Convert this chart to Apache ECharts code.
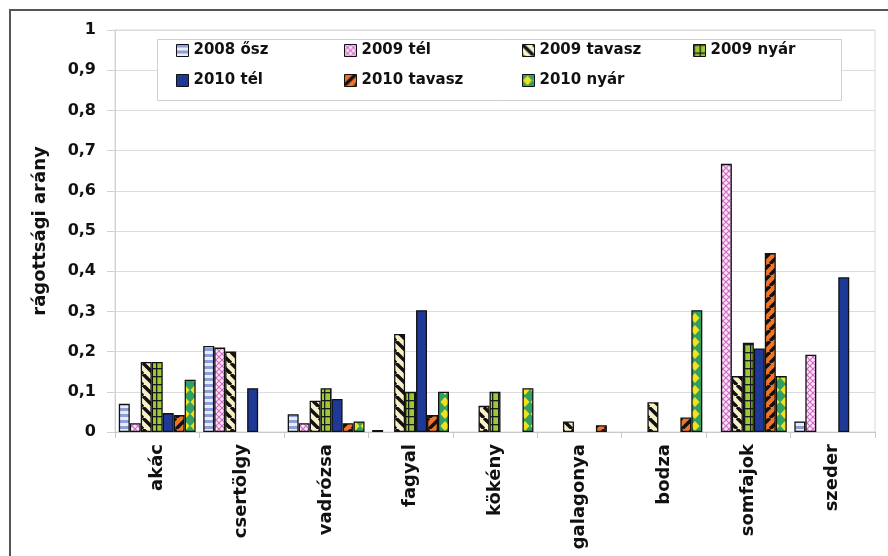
<!DOCTYPE html>
<html>
<head>
<meta charset="utf-8">
<script src="https://cdn.jsdelivr.net/npm/echarts@6/dist/echarts.min.js"></script>
<style>
html,body{margin:0;padding:0;background:#fff;}
#chart{width:888px;height:556px;}
</style>
</head>
<body>
<div id="chart"></div>
<script>
// ---- data ----
const categories = ['akác','csertölgy','vadrózsa','fagyal','kökény','galagonya','bodza','somfajok','szeder'];
const seriesNames = ['2008 ősz','2009 tél','2009 tavasz','2009 nyár','2010 tél','2010 tavasz','2010 nyár'];
const s2008osz    = [0.070, 0.214, 0.044, 0.005, 0,     0,     0,     0,     0.026];
const s2009tel    = [0.022, 0.210, 0.022, 0,     0,     0,     0,     0.667, 0.192];
const s2009tavasz = [0.174, 0.200, 0.078, 0.244, 0.065, 0.026, 0.074, 0.139, 0];
const s2009nyar   = [0.174, 0,     0.109, 0.100, 0.100, 0,     0,     0.222, 0];
const s2010tel    = [0.047, 0.109, 0.082, 0.303, 0,     0,     0,     0.208, 0.385];
const s2010tavasz = [0.042, 0,     0.022, 0.042, 0,     0.017, 0.036, 0.445, 0];
const s2010nyar   = [0.130, 0,     0.026, 0.100, 0.109, 0,     0.303, 0.139, 0];
const yTickLabels = ['0','0,1','0,2','0,3','0,4','0,5','0,6','0,7','0,8','0,9','1'];
const seriesValues = [s2008osz, s2009tel, s2009tavasz, s2009nyar, s2010tel, s2010tavasz, s2010nyar];

// ---- patterns ----
function mk(w, h, draw) {
  const c = document.createElement('canvas');
  c.width = w; c.height = h;
  const g = c.getContext('2d');
  draw(g, w, h);
  return { image: c, repeat: 'repeat' };
}
const patterns = [
  mk(6, 6, (g, w, h) => { g.fillStyle = '#e9edf9'; g.fillRect(0,0,w,h); g.fillStyle = '#8e9ed8'; g.fillRect(0,0,w,3); }),
  mk(6, 6, (g, w, h) => {
    g.fillStyle = '#fbe6f6'; g.fillRect(0,0,w,h);
    g.strokeStyle = '#d06cc6'; g.lineWidth = 1.2;
    g.beginPath(); g.moveTo(0,0); g.lineTo(6,6); g.moveTo(6,0); g.lineTo(0,6); g.stroke();
  }),
  mk(11, 11, (g, w, h) => {
    g.fillStyle = '#f8f0c6'; g.fillRect(0,0,w,h);
    g.strokeStyle = '#111'; g.lineWidth = 3.4;
    g.beginPath();
    for (let k = -2; k <= 2; k++) { g.moveTo(k*11, 0); g.lineTo(k*11 + 11, 11); }
    g.stroke();
  }),
  mk(6, 8, (g, w, h) => {
    g.fillStyle = '#9acb34'; g.fillRect(0,0,w,h);
    g.fillStyle = '#1a1a1a'; g.fillRect(0,0,w,1.3); g.fillRect(0,0,1.3,h);
  }),
  '#1f3a96',
  mk(11, 11, (g, w, h) => {
    g.fillStyle = '#f07526'; g.fillRect(0,0,w,h);
    g.strokeStyle = '#111'; g.lineWidth = 3.4;
    g.beginPath();
    for (let k = -2; k <= 2; k++) { g.moveTo(k*11, 11); g.lineTo(k*11 + 11, 0); }
    g.stroke();
  }),
  mk(10, 12, (g, w, h) => {
    g.fillStyle = '#2f9f62'; g.fillRect(0,0,w,h);
    g.fillStyle = '#f2e21e';
    g.beginPath(); g.moveTo(5,1); g.lineTo(9.5,6); g.lineTo(5,11); g.lineTo(0.5,6); g.closePath(); g.fill();
  })
];

const chart = echarts.init(document.getElementById('chart'), null, { renderer: 'canvas' });
const font = 'DejaVu Sans';

// legend laid out as 4 columns x 2 rows
const legendColumnsLeft = [176, 344, 522, 693];
const legends = legendColumnsLeft.map((x, c) => ({
  data: seriesNames.filter((_, i) => i % 4 === c),
  orient: 'vertical',
  left: x, top: 43,
  z: 20,
  padding: 0,
  icon: 'rect',
  itemWidth: 12, itemHeight: 12,
  itemGap: 15,
  itemStyle: { borderColor: '#111', borderWidth: 1 },
  textStyle: { fontFamily: font, fontWeight: 'bold', fontSize: 15, color: '#111' },
  selectedMode: false
}));

chart.setOption({
  backgroundColor: '#ffffff',
  animation: false,
  graphic: [
    {
      type: 'rect', silent: true, z: 100,
      shape: { x: 10, y: 10, width: 900, height: 600 },
      style: { fill: 'none', stroke: '#555', lineWidth: 2 }
    },
    {
      type: 'rect', silent: true, z: 5,
      shape: { x: 157.5, y: 39.5, width: 684, height: 61 },
      style: { fill: '#fff', stroke: '#cfcfcf', lineWidth: 1 }
    }
  ],
  legend: legends,
  grid: {
    left: 115, right: 13, top: 30, bottom: 124,
    show: true, borderColor: '#d9d9d9', borderWidth: 1, backgroundColor: 'transparent'
  },
  xAxis: {
    type: 'category',
    data: categories,
    axisLine: { lineStyle: { color: '#c8c8c8' } },
    axisTick: { show: true, length: 6, lineStyle: { color: '#c8c8c8' } },
    axisLabel: { rotate: 90, margin: 12, fontFamily: font, fontWeight: 'bold', fontSize: 18, color: '#111' }
  },
  yAxis: {
    type: 'value',
    min: 0, max: 1, interval: 0.1,
    name: 'rágottsági arány',
    nameLocation: 'middle',
    nameGap: 66,
    nameTextStyle: { fontFamily: font, fontWeight: 'bold', fontSize: 18, color: '#111' },
    axisLine: { show: true, lineStyle: { color: '#d0d0d0' } },
    axisTick: { show: true, length: 8, lineStyle: { color: '#d0d0d0' } },
    splitLine: { lineStyle: { color: '#dcdcdc' } },
    axisLabel: {
      margin: 19, fontFamily: font, fontWeight: 'bold', fontSize: 16, color: '#111',
      formatter: (v) => yTickLabels[Math.round(v * 10)]
    }
  },
  series: seriesNames.map((n, i) => ({
    name: n,
    type: 'bar',
    data: seriesValues[i].map(v => (v === 0 ? '-' : v)),
    barGap: '0%',
    barCategoryGap: '9%',
    itemStyle: { color: patterns[i], borderColor: '#111', borderWidth: 1.3 }
  }))
});
</script>
</body>
</html>
